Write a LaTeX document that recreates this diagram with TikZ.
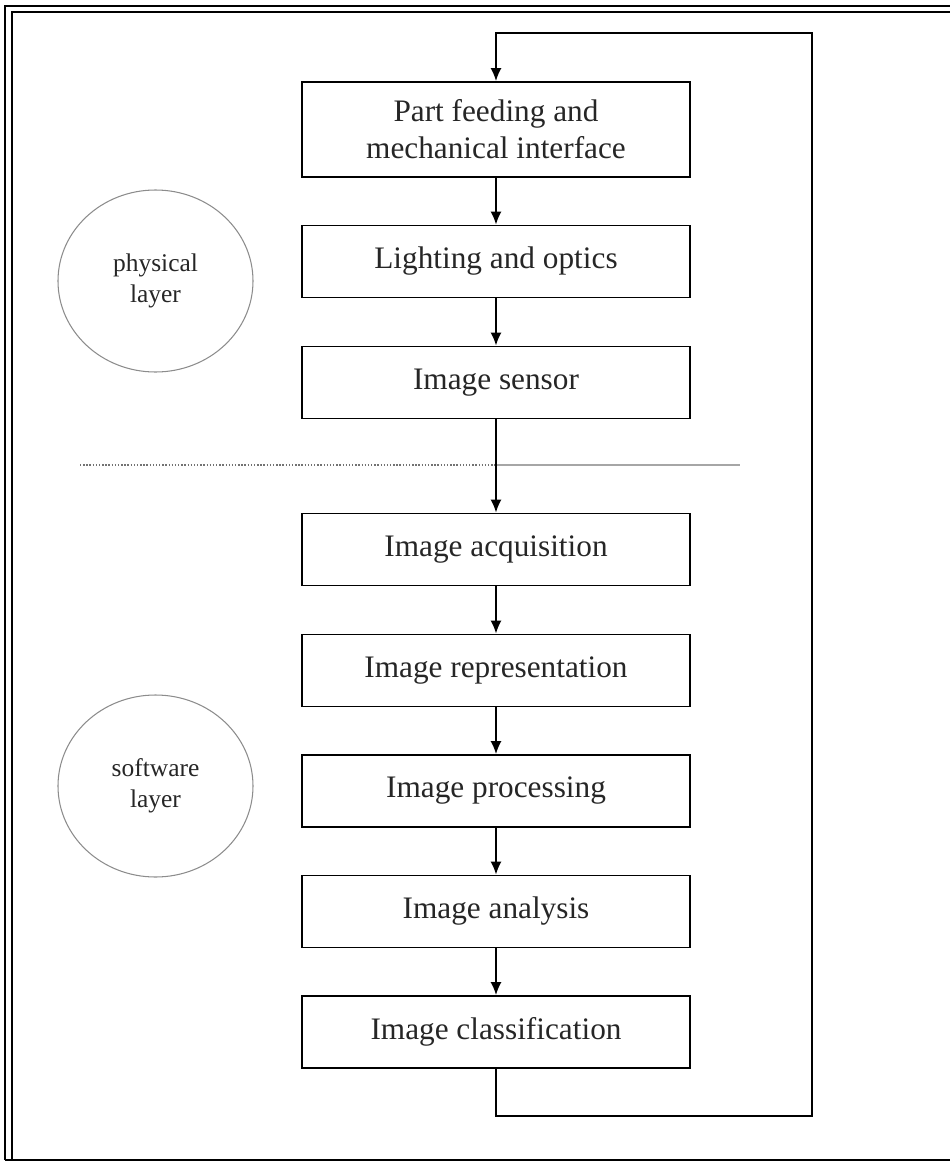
\documentclass[tikz,border=0pt]{standalone}
\usepackage{fontspec}
\setmainfont{Liberation Serif}
\usepackage{tikz}
\usetikzlibrary{shapes.geometric, arrows.meta}

\begin{document}
\begin{tikzpicture}[x=0.2mm, y=-0.2mm,
		stage/.style={rectangle, draw, line width=1pt, inner sep=0pt, minimum width=77.6mm, minimum height=14.4mm, align=center, font=\fontsize{17.8}{21}\selectfont, text=black!85},
		layer/.style={ellipse, draw=black!45, line width=0.6pt, inner sep=0pt, minimum width=39mm, minimum height=36.4mm, align=center, font=\fontsize{14.5}{17.5}\selectfont, text=black!85},
		flow/.style={-{Latex[length=2.6mm, width=2.2mm]}, line width=1pt}]
				\useasboundingbox (0,0) rectangle (949,1162);
				% page frame
				\draw[line width=1.1pt] (5,1160) -- (5,6) -- (960,6);
				\draw[line width=1.1pt] (12,1160) -- (12,12) -- (960,12);
				\draw[line width=1.1pt] (5,1160) -- (960,1160);
				
				% vision system stages
				\node[stage, minimum height=19mm] (feed) at (496,129.5) {Part feeding and\\mechanical interface};
				\node[stage] (light) at (496,261.5) {Lighting and optics};
				\node[stage] (sensor) at (496,382.5) {Image sensor};
				\node[stage] (acq) at (496,549.5) {Image acquisition};
				\node[stage] (repr) at (496,670.5) {Image representation};
				\node[stage] (proc) at (496,791) {Image processing};
				\node[stage] (anal) at (496,911.5) {Image analysis};
				\node[stage] (class) at (496,1032) {Image classification};
				
				% layers
				\node[layer] (phys) at (155.5,281) {physical\\layer};
				\node[layer] (soft) at (155.5,786) {software\\layer};
				
				% separator between layers
				\coordinate (sepL) at (80,465);
				\coordinate (sepM) at (496,465);
				\coordinate (sepR) at (740,465);
				\draw[black!55, densely dotted, line width=0.8pt] (sepL) -- (sepM);
				\draw[black!35, line width=1.2pt] (sepM) -- (sepR);
				
				\draw[flow] (feed) -- (light);
				\draw[flow] (light) -- (sensor);
				\draw[flow] (sensor) -- (acq);
				\draw[flow] (acq) -- (repr);
				\draw[flow] (repr) -- (proc);
				\draw[flow] (proc) -- (anal);
				\draw[flow] (anal) -- (class);
				
				% feedback loop
				\coordinate (loopB) at (812,1116);
				\coordinate (loopT) at (812,33);
				\draw[flow] (class.south) |- (loopB) -- (loopT) -| (feed.north);
		\end{tikzpicture}
\end{document}
